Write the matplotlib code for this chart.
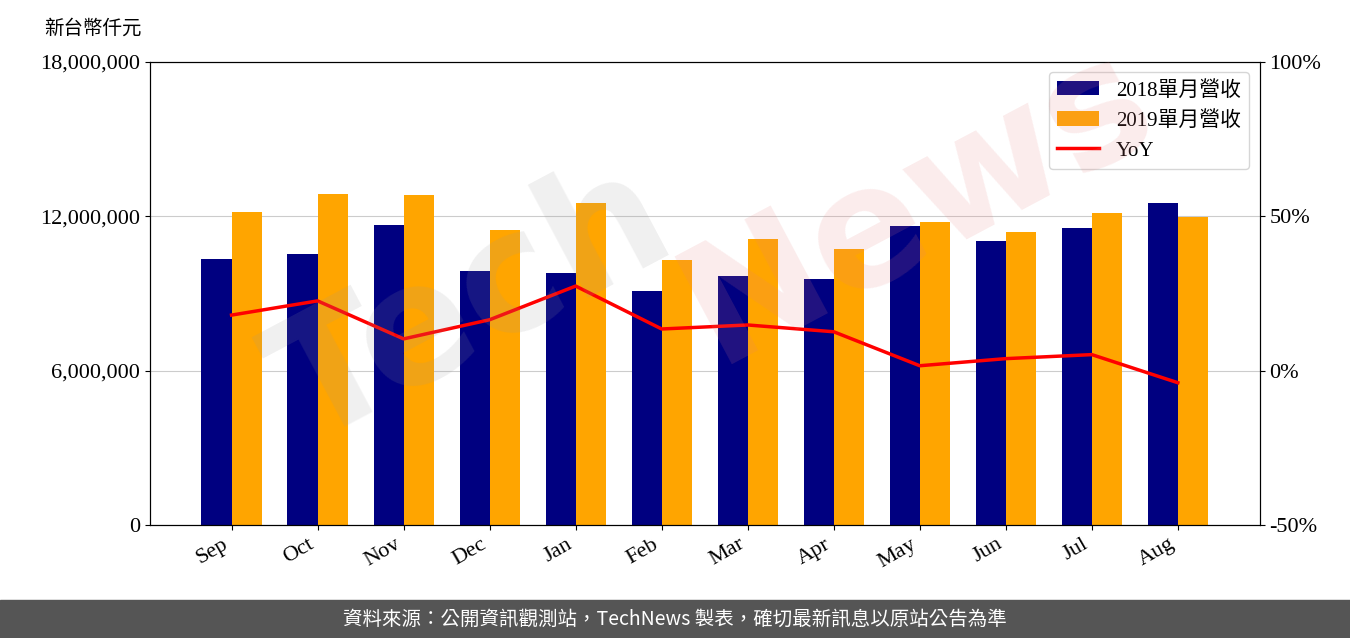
import numpy as np
import matplotlib
matplotlib.use("Agg")
from matplotlib import pyplot as plt

plt.rcParams['font.family'] = ['Liberation Serif', 'Noto Sans CJK TC', 'DejaVu Sans']

months = ['Sep', 'Oct', 'Nov', 'Dec', 'Jan', 'Feb', 'Mar', 'Apr', 'May', 'Jun', 'Jul', 'Aug']
rev2018 = [10340000, 10540000, 11660000, 9870000, 9800000, 9100000,
           9680000, 9560000, 11620000, 11040000, 11550000, 12520000]
rev2019 = [12170000, 12870000, 12830000, 11470000, 12520000, 10300000,
           11120000, 10730000, 11780000, 11390000, 12130000, 11970000]
yoy = [18.0, 22.6, 10.3, 16.5, 27.4, 13.5, 14.8, 12.6, 1.6, 3.9, 5.2, -3.9]

fig = plt.figure(figsize=(13.5, 6.38), dpi=100)
ax = fig.add_axes([0.111, 0.177, 0.822, 0.726])
x = np.arange(len(months))
w = 0.35
b1 = ax.bar(x - w/2, rev2018, w, color='#000080', label='2018單月營收')
b2 = ax.bar(x + w/2, rev2019, w, color='#FFA500', label='2019單月營收')
ax.set_ylim(0, 18000000)
ax.set_yticks([0, 6000000, 12000000, 18000000])
ax.set_yticklabels(['0', '6,000,000', '12,000,000', '18,000,000'], fontsize=16)
ax.set_xlim(-0.95, 11.95)
ax.set_xticks(x)
ax.set_xticklabels(months, rotation=30, ha='right', fontsize=16)
ax.yaxis.grid(True, color='#cccccc')
ax.set_axisbelow(True)
ax.text(-0.095, 1.06, '新台幣仟元', transform=ax.transAxes, fontsize=14,
        family=['Noto Sans CJK TC'])

ax2 = ax.twinx()
l, = ax2.plot(x, yoy, color='red', lw=2.5, label='YoY')
ax2.set_ylim(-50, 100)
ax2.set_yticks([-50, 0, 50, 100])
ax2.set_yticklabels(['-50%', '0%', '50%', '100%'], fontsize=16)

ax2.legend([b1, b2, l], ['2018單月營收', '2019單月營收', 'YoY'], loc='upper right',
           prop={'family': ['Liberation Serif', 'Noto Sans CJK TC'], 'size': 15})

fig.text(0.35, 0.52, 'Tech', fontsize=120, color='#999999', alpha=0.15,
         rotation=28, ha='center', va='center', fontweight='bold',
         family=['DejaVu Sans'])
fig.text(0.68, 0.68, 'News', fontsize=120, color='#e88080', alpha=0.15,
         rotation=28, ha='center', va='center', fontweight='bold',
         family=['DejaVu Sans'])

fig.patches.append(plt.Rectangle((0, 0), 1, 0.06, transform=fig.transFigure,
                                 color='#555555', zorder=0))
fig.text(0.5, 0.03, '資料來源：公開資訊觀測站，TechNews 製表，確切最新訊息以原站公告為準',
         color='white', fontsize=14, ha='center', va='center',
         family=['Noto Sans CJK TC'])

fig.savefig('out.png')
